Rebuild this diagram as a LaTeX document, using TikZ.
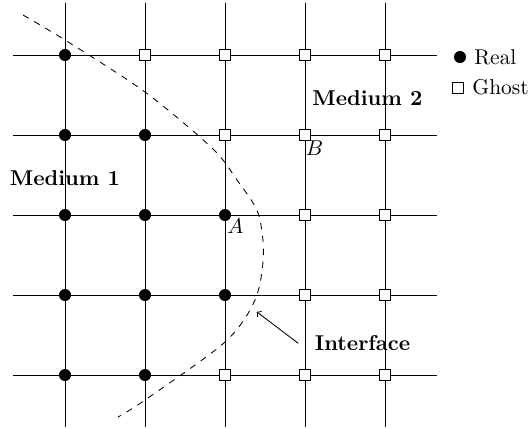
\documentclass[tikz,border=0pt]{standalone}
\begin{document}
\begin{tikzpicture}[x=1.31cm,y=1.31cm,
  gridline/.style={line width=0.4pt},
  real/.style={circle,fill=black,inner sep=0pt,minimum size=5.6pt},
  ghost/.style={rectangle,draw=black,fill=white,inner sep=0pt,minimum size=5.2pt,line width=0.4pt},
  lab/.style={inner sep=0pt},
  iface/.style={dashed,line width=0.4pt}]
\useasboundingbox (-0.8125,-0.6625) rectangle (5.8125,4.6875);
\foreach \k in {0,...,4} {
  \draw[gridline] (\k,-0.65) -- (\k,4.65);
  \draw[gridline] (-0.65,\k) -- (4.65,\k);
}
\draw[iface] plot[smooth] coordinates {(-0.525,4.5) (0,4.1875) (1.0,3.5375) (1.8375,2.8375) (2.15,2.4375) (2.4125,2.025) (2.48,1.5) (2.375,0.9375) (2.0,0.4125) (1.0,-0.3125) (0.6625,-0.525)};
\foreach \j/\r in {0/1,1/2,2/2,3/1,4/0} {
  \foreach \i in {0,...,4} {
    \ifnum\i>\r
      \node[ghost] (n\i\j) at (\i,\j) {};
    \else
      \node[real] (n\i\j) at (\i,\j) {};
    \fi
  }
}
\node[lab] (m1) at (0,2.456) {\textbf{Medium 1}};
\node[lab] (m2) at (3.78,3.4625) {\textbf{Medium 2}};
\node[lab] (lA) at (2.131,1.8625) {$A$};
\node[lab] (lB) at (3.119,2.83) {$B$};
\node[lab] (lI) at (3.72,0.394) {\textbf{Interface}};
\coordinate (aS) at (2.916,0.396);
\coordinate (aT) at (2.396,0.79);
\draw[->] (aS) -- (aT);
\node[real] (kR) at (4.9375,3.975) {};
\node[lab,anchor=west] (tR) at (5.1125,3.969) {Real};
\node[ghost] (kG) at (4.9125,3.5875) {};
\node[lab,anchor=west] (tG) at (5.0875,3.594) {Ghost};
\end{tikzpicture}
\end{document}
